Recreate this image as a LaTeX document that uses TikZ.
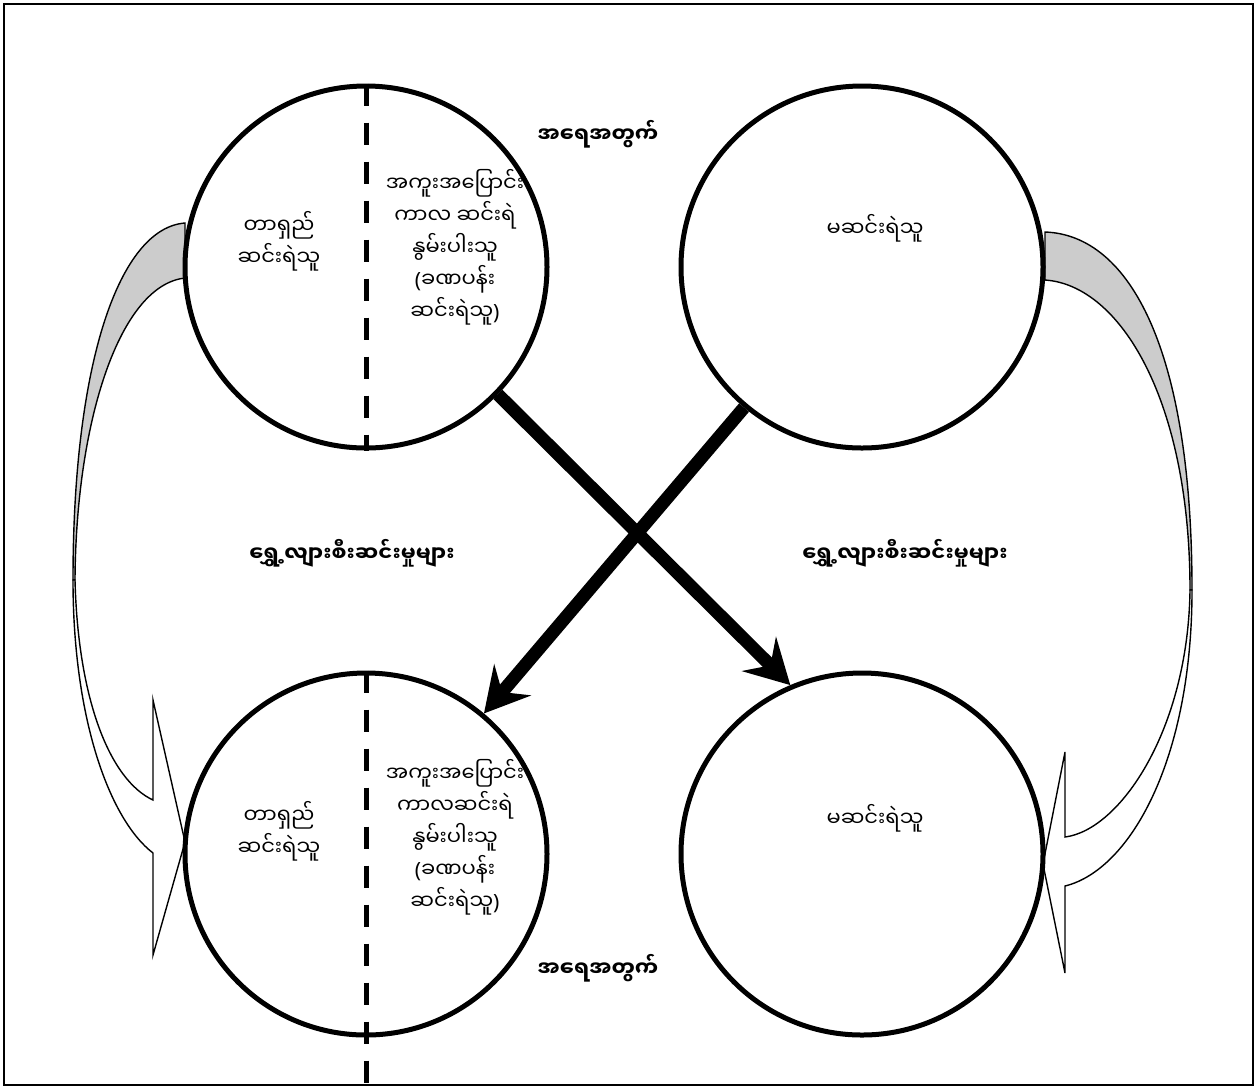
\documentclass[tikz,border=0pt]{standalone}
\usepackage{fontspec}
\newfontfamily\mmfont[Script=Myanmar]{Noto Sans Myanmar UI}
\newfontfamily\parfont{Noto Sans}
\newcommand\lpar{{\parfont(}}
\newcommand\rpar{{\parfont)}}
\usetikzlibrary{arrows.meta}

\tikzset{
  pool/.style={circle, draw, line width=2.5pt, minimum size=181pt, inner sep=0pt},
  txt/.style={align=center, font=\mmfont\fontsize{10.5}{16}\selectfont},
  boldtxt/.style={font=\mmfont\bfseries\fontsize{10.5}{16}\selectfont},
  divide/.style={line width=2.5pt, dash pattern=on 11pt off 8.5pt},
  flow/.style={line width=6.5pt, -{Stealth[length=22pt, width=24pt, inset=8pt]}},
  band/.style={line width=0.7pt, line join=miter},
}

\begin{document}
\begin{tikzpicture}[x=0.5pt, y=-0.5pt]
  \useasboundingbox (0,0) rectangle (1257,1089);
  \draw[line width=1pt] (4,4) rectangle (1253,1085);

  % side block arrows
  \filldraw[band, fill=black!20] (185,223) .. controls (120,228) and (73,360) .. (73,580)
    -- (75,580) .. controls (76,420) and (120,285) .. (185,278) -- cycle;
  \filldraw[band, fill=white] (73,580) .. controls (73,720) and (110,820) .. (153,853)
    -- (153,955) -- (185,842) -- (153,700) -- (153,800)
    .. controls (110,780) and (78,700) .. (75,580) -- cycle;
  \filldraw[band, fill=black!20] (1045,232) .. controls (1130,235) and (1192,350) .. (1192,590)
    -- (1190,590) .. controls (1190,400) and (1120,285) .. (1045,280) -- cycle;
  \filldraw[band, fill=white] (1192,590) .. controls (1192,760) and (1130,870) .. (1065,886)
    -- (1065,973) -- (1043,864) -- (1065,752) -- (1065,837)
    .. controls (1120,830) and (1188,730) .. (1190,590) -- cycle;

  % groups
  \node[pool] (poorT) at (366,267) {};
  \node[pool] (nonpoorT) at (862,267) {};
  \node[pool] (poorB) at (366,854) {};
  \node[pool] (nonpoorB) at (862,854) {};

  \coordinate (botedge) at (366,1085);
  \draw[divide] (poorT.north) -- (poorT.south);
  \draw[divide] (poorB.north) -- (botedge);

  \node[txt] (longT) at (279,241) {တာရှည်\\ဆင်းရဲသူ};
  \node[txt] (transT) at (455,247) {အကူးအပြောင်း\\ကာလ ဆင်းရဲ\\နွမ်းပါးသူ\\\lpar ခဏပန်း\\ဆင်းရဲသူ\rpar};
  \node[txt] (nonT) at (875,228) {မဆင်းရဲသူ};
  \node[txt] (longB) at (279,831) {တာရှည်\\ဆင်းရဲသူ};
  \node[txt] (transB) at (455,837) {အကူးအပြောင်း\\ကာလဆင်းရဲ\\နွမ်းပါးသူ\\\lpar ခဏပန်း\\ဆင်းရဲသူ\rpar};
  \node[txt] (nonB) at (875,818) {မဆင်းရဲသူ};

  \node[boldtxt] (countT) at (598,134) {အရေအတွက်};
  \node[boldtxt] (countB) at (598,968) {အရေအတွက်};
  \node[boldtxt] (moveL) at (352,553) {ရွှေ့လျားစီးဆင်းမှုများ};
  \node[boldtxt] (moveR) at (905,553) {ရွှေ့လျားစီးဆင်းမှုများ};

  % flows between groups
  \draw[flow] (poorT.-44.5) -- (nonpoorB.113.5);
  \draw[flow] (nonpoorT.230) -- (poorB.50);
\end{tikzpicture}
\end{document}
